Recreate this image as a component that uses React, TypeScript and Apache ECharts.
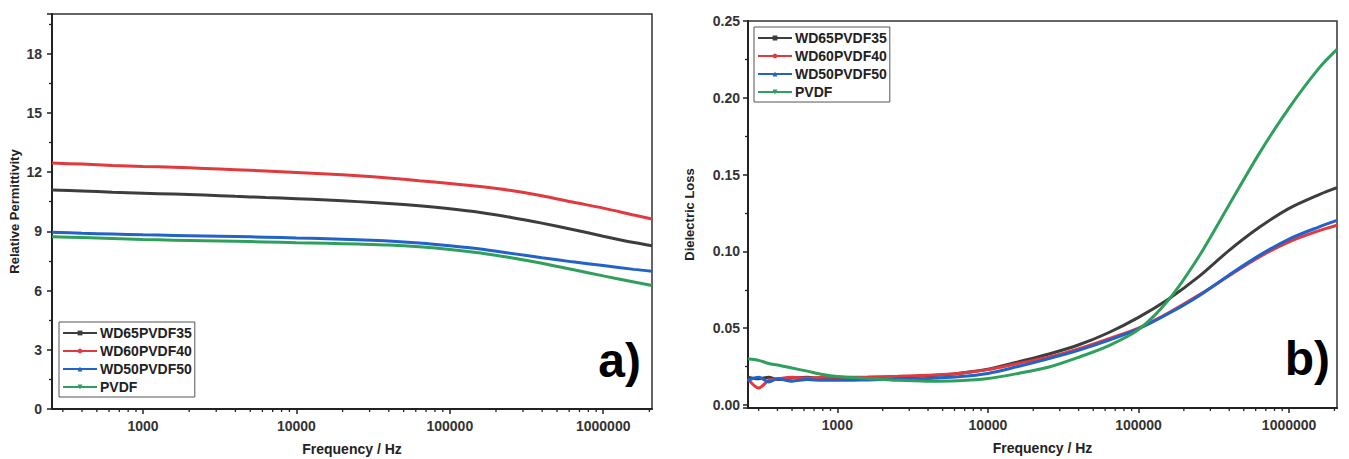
import React, { useEffect, useRef } from 'react';
import * as echarts from 'echarts';

const seriesNames = ['WD65PVDF35', 'WD60PVDF40', 'WD50PVDF50', 'PVDF'];
const seriesColors = ['#3d3d3d', '#e03a3f', '#2163c8', '#2f9f5c'];
const seriesSymbols = ['rect', 'circle', 'triangle', 'path://M0,0L10,0L5,9Z'];

// Panel a) Relative permittivity
const freqA = [255, 400, 631, 1000, 1585, 2512, 3981, 6310, 10000, 15849, 25119, 39811, 63096, 100000, 158489, 251189, 398107, 630957, 1000000, 1584893, 2080000];
const permWD65 = [11.09, 11.04, 10.98, 10.93, 10.88, 10.83, 10.77, 10.71, 10.65, 10.58, 10.50, 10.41, 10.29, 10.14, 9.95, 9.70, 9.41, 9.09, 8.75, 8.43, 8.27];
const permWD60 = [12.45, 12.40, 12.33, 12.28, 12.24, 12.18, 12.12, 12.05, 11.98, 11.90, 11.81, 11.70, 11.56, 11.42, 11.26, 11.06, 10.80, 10.48, 10.17, 9.82, 9.62];
const permWD50 = [8.95, 8.90, 8.86, 8.82, 8.79, 8.76, 8.73, 8.70, 8.66, 8.62, 8.57, 8.51, 8.41, 8.27, 8.10, 7.88, 7.66, 7.45, 7.27, 7.07, 6.97];
const permPVDF = [8.72, 8.68, 8.63, 8.58, 8.55, 8.52, 8.49, 8.46, 8.42, 8.39, 8.35, 8.30, 8.21, 8.08, 7.90, 7.66, 7.38, 7.06, 6.74, 6.43, 6.25];

// Panel b) Dielectric loss
const freqB = [255, 300, 350, 400, 500, 631, 800, 1000, 1585, 2512, 3981, 6310, 10000, 15849, 25119, 39811, 63096, 100000, 158489, 251189, 398107, 630957, 1000000, 1584893, 2080000];
const lossWD65 = [0.018, 0.017, 0.018, 0.0165, 0.0175, 0.018, 0.0172, 0.0175, 0.0178, 0.0183, 0.019, 0.0205, 0.0232, 0.028, 0.033, 0.039, 0.047, 0.057, 0.069, 0.0835, 0.1005, 0.1155, 0.128, 0.137, 0.1415];
const lossWD60 = [0.017, 0.011, 0.016, 0.017, 0.018, 0.0175, 0.018, 0.018, 0.0182, 0.0186, 0.0193, 0.0205, 0.023, 0.027, 0.031, 0.0365, 0.043, 0.050, 0.060, 0.0715, 0.084, 0.0962, 0.1062, 0.1135, 0.117];
const lossWD50 = [0.016, 0.018, 0.015, 0.017, 0.0155, 0.0165, 0.016, 0.016, 0.0163, 0.0167, 0.0172, 0.0183, 0.0205, 0.025, 0.030, 0.0355, 0.042, 0.0495, 0.0595, 0.071, 0.0845, 0.0972, 0.108, 0.116, 0.1202];
const lossPVDF = [0.030, 0.029, 0.027, 0.026, 0.024, 0.022, 0.0198, 0.0185, 0.0172, 0.016, 0.0155, 0.0158, 0.0172, 0.0205, 0.0245, 0.031, 0.0385, 0.049, 0.0685, 0.0965, 0.130, 0.1635, 0.1935, 0.2195, 0.2315];

// minor tick positions on the log frequency axes
const minorFreqTicks = [300, 400, 500, 600, 700, 800, 900, 2000, 3000, 4000, 5000, 6000, 7000, 8000, 9000, 20000, 30000, 40000, 50000, 60000, 70000, 80000, 90000, 200000, 300000, 400000, 500000, 600000, 700000, 800000, 900000, 2000000];

const FREQ_MIN = 255;
const FREQ_MAX = 2080000;
const PERM_MIN = 0;
const PERM_MAX = 20;
const LOSS_MIN = -0.002;
const LOSS_MAX = 0.25;

const FONT = "'Liberation Sans', Arial, sans-serif";

const axisLineStyle = { color: '#222', width: 2 };
const tickStyle = { color: '#222', width: 1.5 };
const labelStyle = { color: '#333', fontSize: 14, fontWeight: 'bold' as const, fontFamily: FONT };
const nameStyle = { color: '#222', fontSize: 13, fontWeight: 'bold' as const, fontFamily: FONT };

function xAxis(gridIndex: number) {
  return {
    type: 'log',
    gridIndex,
    min: FREQ_MIN,
    max: FREQ_MAX,
    logBase: 10,
    name: 'Frequency / Hz',
    nameLocation: 'middle',
    nameGap: 33,
    nameTextStyle: { ...nameStyle, fontSize: 14 },
    axisLine: { show: true, onZero: false, lineStyle: axisLineStyle },
    axisTick: { show: true, inside: false, length: 5, lineStyle: tickStyle },
    minorTick: { show: false },
    splitLine: { show: false },
    axisLabel: {
      ...labelStyle,
      margin: 10,
      showMinLabel: false,
      showMaxLabel: false,
      formatter: (v: number) => String(Math.round(v)),
    },
  };
}

function minorTickSeries(index: number, yMin: number) {
  return {
    type: 'custom',
    xAxisIndex: index,
    yAxisIndex: index,
    silent: true,
    clip: false,
    z: 5,
    data: minorFreqTicks.map((f) => [f, yMin]),
    renderItem: (_params: any, api: any) => {
      const p = api.coord([api.value(0), api.value(1)]);
      return {
        type: 'line',
        shape: { x1: p[0], y1: p[1], x2: p[0], y2: p[1] + 3 },
        style: { stroke: '#222', lineWidth: 1.3 },
      };
    },
  };
}

function lineSeries(i: number, axisIndex: number, freq: number[], values: number[]) {
  return {
    type: 'line',
    name: seriesNames[i],
    xAxisIndex: axisIndex,
    yAxisIndex: axisIndex,
    data: freq.map((f, k) => [f, values[k]]),
    showSymbol: false,
    symbol: seriesSymbols[i],
    symbolSize: 5,
    smooth: 0.3,
    color: seriesColors[i],
    lineStyle: { color: seriesColors[i], width: 3 },
    itemStyle: { color: seriesColors[i] },
    emphasis: { disabled: true },
    z: 3,
  };
}

function legend(left: number, top: number) {
  return {
    left,
    top,
    orient: 'vertical',
    data: seriesNames,
    itemWidth: 34,
    itemHeight: 6,
    itemGap: 4,
    padding: [4, 3, 3, 3],
    borderColor: '#555',
    borderWidth: 1,
    selectedMode: false,
    textStyle: { color: '#222', fontSize: 14, fontWeight: 'bold', fontFamily: FONT, padding: [0, 0, 0, -2] },
  };
}

export default function App() {
  const ref = useRef<HTMLDivElement>(null);
  useEffect(() => {
    if (!ref.current) return;
    const chart = echarts.init(ref.current, undefined, { renderer: 'svg' });
    const option: any = {
      animation: false,
      backgroundColor: '#ffffff',
      grid: [
        { left: 52, top: 14, width: 600, height: 395, show: true, borderColor: '#333', borderWidth: 1.5, backgroundColor: 'transparent', outerBoundsMode: 'none' },
        { left: 748, top: 21, width: 589, height: 387, show: true, borderColor: '#333', borderWidth: 1.5, backgroundColor: 'transparent', outerBoundsMode: 'none' },
      ],
      legend: [legend(59, 322), legend(754, 27)],
      xAxis: [xAxis(0), xAxis(1)],
      yAxis: [
        {
          type: 'value',
          gridIndex: 0,
          min: PERM_MIN,
          max: PERM_MAX,
          interval: 3,
          name: 'Relative Permittivity',
          nameLocation: 'middle',
          nameGap: 31,
          nameTextStyle: nameStyle,
          axisLine: { show: true, onZero: false, lineStyle: axisLineStyle },
          axisTick: { show: true, inside: false, length: 5, lineStyle: tickStyle },
          minorTick: { show: true, splitNumber: 2, length: 3, lineStyle: { color: '#222', width: 1.3 } },
          splitLine: { show: false },
          axisLabel: { ...labelStyle, margin: 10, showMaxLabel: false },
        },
        {
          type: 'value',
          gridIndex: 1,
          min: LOSS_MIN,
          max: LOSS_MAX,
          splitNumber: 5,
          name: 'Dielectric Loss',
          nameLocation: 'middle',
          nameGap: 52,
          nameTextStyle: nameStyle,
          axisLine: { show: true, onZero: false, lineStyle: axisLineStyle },
          axisTick: { show: true, inside: false, length: 5, lineStyle: tickStyle },
          minorTick: { show: true, splitNumber: 2, length: 3, lineStyle: { color: '#222', width: 1.3 } },
          splitLine: { show: false },
          axisLabel: {
            ...labelStyle,
            margin: 8,
            showMinLabel: false,
            formatter: (v: number) => (Math.abs(v) < 1e-9 ? 0 : v).toFixed(2),
          },
        },
      ],
      graphic: [
        {
          type: 'text',
          right: 1349 - 641,
          top: 336,
          style: { text: 'a)', font: `bold 48px ${FONT}`, fill: '#000' },
        },
        {
          type: 'text',
          right: 1349 - 1330,
          top: 334,
          style: { text: 'b)', font: `bold 48px ${FONT}`, fill: '#000' },
        },
      ],
      series: [
        lineSeries(0, 0, freqA, permWD65),
        lineSeries(1, 0, freqA, permWD60),
        lineSeries(2, 0, freqA, permWD50),
        lineSeries(3, 0, freqA, permPVDF),
        lineSeries(0, 1, freqB, lossWD65),
        lineSeries(1, 1, freqB, lossWD60),
        lineSeries(2, 1, freqB, lossWD50),
        lineSeries(3, 1, freqB, lossPVDF),
        minorTickSeries(0, PERM_MIN),
        minorTickSeries(1, LOSS_MIN),
      ],
    };
    chart.setOption(option);
    return () => chart.dispose();
  }, []);
  return (
    <div
      ref={ref}
      style={{ position: 'fixed', left: 0, top: 0, width: 1349, height: 459, background: '#fff' }}
    />
  );
}
